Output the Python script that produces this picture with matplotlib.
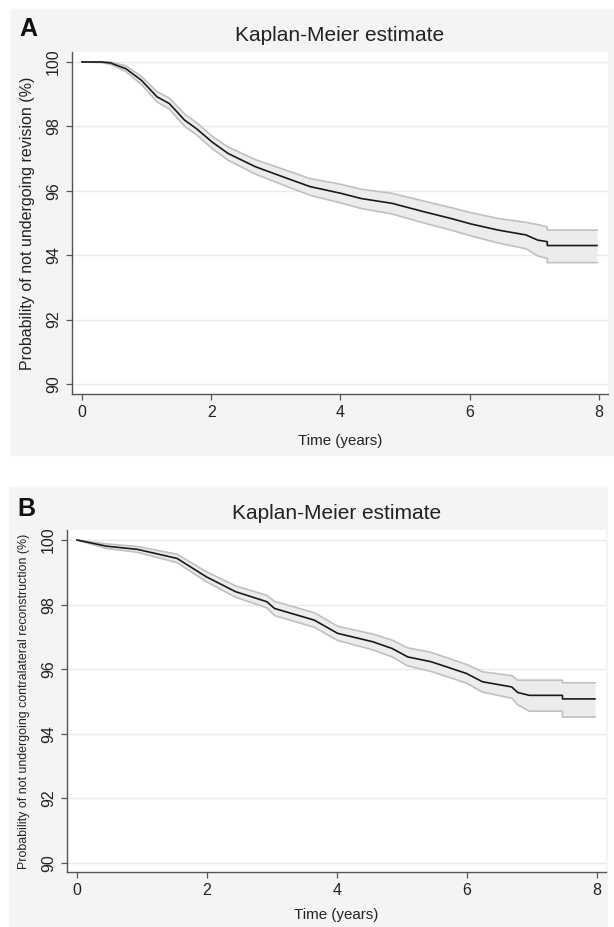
import matplotlib
matplotlib.use("Agg")
import matplotlib.pyplot as plt
from matplotlib.patches import Rectangle

plt.rcParams['font.family'] = ['Liberation Sans', 'DejaVu Sans']

# ---------------- data
# panel A: revision
time_a = [0, 0.30, 0.44, 0.68, 0.92, 1.16, 1.35, 1.59, 1.77, 2.01, 2.26, 2.68, 3.10, 3.53,
          4.01, 4.32, 4.80, 5.29, 5.71, 6.02, 6.44, 6.87, 7.05, 7.20, 7.20, 7.97]
surv_a = [100, 100, 99.97, 99.79, 99.43, 98.92, 98.71, 98.19, 97.93, 97.52, 97.16, 96.75, 96.44, 96.13,
          95.92, 95.76, 95.61, 95.35, 95.14, 94.97, 94.78, 94.63, 94.47, 94.42, 94.30, 94.30]
upper_a = [100, 100, 100.0, 99.88, 99.55, 99.08, 98.88, 98.38, 98.12, 97.70, 97.36, 96.97, 96.68, 96.38,
           96.20, 96.05, 95.92, 95.68, 95.48, 95.32, 95.14, 95.02, 94.95, 94.88, 94.78, 94.78]
lower_a = [100, 99.98, 99.93, 99.70, 99.30, 98.76, 98.54, 98.00, 97.74, 97.32, 96.95, 96.52, 96.19, 95.86,
           95.62, 95.45, 95.28, 95.00, 94.78, 94.60, 94.38, 94.20, 93.98, 93.90, 93.77, 93.77]

# panel B: contralateral reconstruction
time_b = [0, 0.45, 0.93, 1.54, 1.99, 2.44, 2.92, 3.04, 3.65, 4.01, 4.55, 4.85, 5.09,
          5.45, 5.99, 6.24, 6.69, 6.78, 6.96, 7.47, 7.47, 7.97]
surv_b = [100, 99.81, 99.71, 99.43, 98.86, 98.40, 98.09, 97.88, 97.52, 97.11, 96.85, 96.64, 96.38,
          96.23, 95.87, 95.61, 95.45, 95.28, 95.19, 95.19, 95.08, 95.08]
upper_b = [100, 99.88, 99.80, 99.56, 99.02, 98.58, 98.29, 98.10, 97.75, 97.33, 97.09, 96.90, 96.66,
           96.52, 96.15, 95.92, 95.80, 95.66, 95.66, 95.66, 95.58, 95.58]
lower_b = [100, 99.74, 99.62, 99.30, 98.71, 98.23, 97.90, 97.66, 97.30, 96.89, 96.60, 96.38, 96.10,
           95.93, 95.57, 95.29, 95.10, 94.90, 94.70, 94.70, 94.52, 94.52]

yticks = [90, 92, 94, 96, 98, 100]
xticks = [0, 2, 4, 6, 8]
ylab_a = "Probability of not undergoing revision (%)"
ylab_b = "Probability of not undergoing contralateral reconstruction (%)"

W, H = 614, 927
fig = plt.figure(figsize=(W / 100, H / 100), dpi=100)
fig.patch.set_facecolor("white")

# gray panel backgrounds
fig.patches.append(Rectangle((11 / W, 1 - 455 / H), 603 / W, 446 / H,
                             transform=fig.transFigure, color="#f4f4f4", zorder=-5))
fig.patches.append(Rectangle((9 / W, 1 - 926 / H), 598 / W, 439 / H,
                             transform=fig.transFigure, color="#f4f4f4", zorder=-5))


def km_panel(rect, t, s, lo, hi, ylabel, ylab_size, xlab_pad, ylim, xlim, letter, letter_xy):
    ax = fig.add_axes(rect)
    ax.set_zorder(1)
    ax.set_facecolor("white")
    ax.fill_between(t, lo, hi, color="#ececec", lw=0)
    ax.plot(t, hi, color="#c0c0c0", lw=1.2)
    ax.plot(t, lo, color="#c0c0c0", lw=1.2)
    ax.plot(t, s, color="#1a1a1a", lw=1.2)
    ax.set_xlim(*xlim)
    ax.set_ylim(*ylim)
    ax.set_yticks(yticks)
    ax.set_yticklabels([str(v) for v in yticks], rotation=90, va="center")
    ax.set_xticks(xticks)
    for v in yticks:
        ax.axhline(v, color="#eaeaea", lw=1.0, zorder=0)
    for sp in ["top", "right"]:
        ax.spines[sp].set_visible(False)
    for sp in ["left", "bottom"]:
        ax.spines[sp].set_color("#555555")
        ax.spines[sp].set_linewidth(1.0)
    ax.tick_params(colors="#555555", length=4, width=0.9, labelsize=11.5, labelcolor="#222222")
    ax.tick_params(axis="y", pad=4)
    ax.tick_params(axis="x", pad=4)
    ax.set_xlabel("Time (years)", fontsize=10.9, color="#222222", labelpad=xlab_pad)
    ax.set_ylabel(ylabel, fontsize=ylab_size, color="#222222", labelpad=8)
    ax.set_title("Kaplan-Meier estimate", fontsize=15, color="#222222", pad=8)
    fig.text(letter_xy[0] / W, 1 - letter_xy[1] / H, letter, fontsize=18,
             fontweight="bold", color="#111111", va="top")
    return ax


km_panel([72 / W, 1 - 394 / H, 536 / W, 342 / H], time_a, surv_a, lower_a, upper_a,
         ylab_a, 11.5, 10, (89.69, 100.31), (-0.155, 8.14), "A", (19, 17))
km_panel([67 / W, 1 - 872 / H, 539 / W, 342 / H], time_b, surv_b, lower_b, upper_b,
         ylab_b, 8.9, 7, (89.72, 100.31), (-0.154, 8.14), "B", (17, 497))

fig.savefig("out.png", dpi=100)
